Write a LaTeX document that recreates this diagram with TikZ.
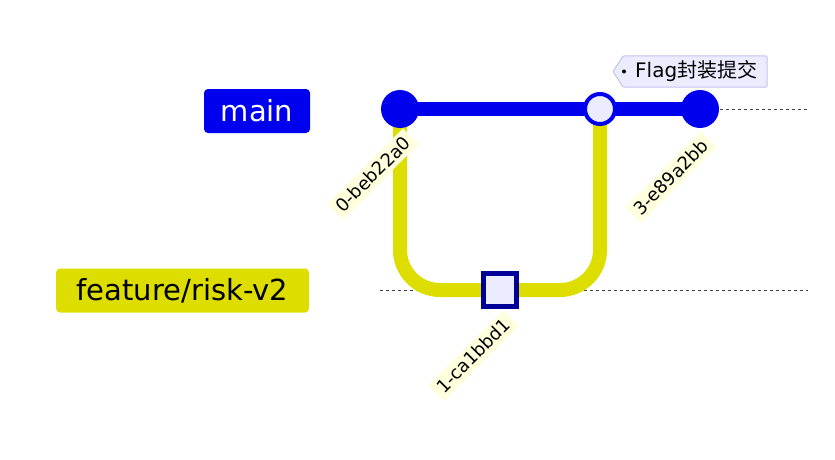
\documentclass[tikz,border=0pt]{standalone}
\usepackage{fontspec}
\setmainfont{DejaVu Sans}
\newfontfamily\cjk{Noto Sans CJK SC}
\usetikzlibrary{shapes.misc}
\definecolor{mainblue}{HTML}{0000EE}
\definecolor{featyel}{HTML}{DDDD00}
\definecolor{commitfill}{HTML}{ECECFF}
\definecolor{sqborder}{HTML}{000099}
\definecolor{lblbg}{HTML}{FFFFDE}
\definecolor{tagborder}{HTML}{C4C4F0}
\begin{document}
\begin{tikzpicture}[x=1pt,y=-1pt,
  branchlbl/.style={rounded corners=4pt, minimum height=44pt, inner sep=0pt, font=\fontsize{29}{32}\selectfont},
  hashlbl/.style={fill=lblbg, inner xsep=5pt, inner ysep=4pt, rotate=45, anchor=east, font=\fontsize{18}{20}\selectfont, text=black},
  guide/.style={draw=black!75, dash pattern=on 3pt off 3pt, line width=0.9pt},
  mainline/.style={draw=mainblue, line width=14pt},
  featline/.style={draw=featyel, line width=14pt},
  bigcommit/.style={circle, fill=mainblue, minimum size=38pt, inner sep=0pt},
  mergecommit/.style={circle, fill=commitfill, draw=mainblue, line width=4pt, minimum size=30pt, inner sep=0pt},
  sqcommit/.style={rectangle, fill=commitfill, draw=sqborder, line width=5pt, minimum size=33pt, inner sep=0pt}
]
\useasboundingbox (0,0) rectangle (835,460);
% branch labels
\node[branchlbl, fill=mainblue, text=white, minimum width=106pt] (lmain) at (257,111) {main};
\node[branchlbl, fill=featyel, text=black, minimum width=253pt] (lfeat) at (182.5,290.5) {feature/risk-v2};
% guide lines
\coordinate (gm0) at (720,109);
\coordinate (gm1) at (808,109);
\coordinate (gf0) at (380,290);
\coordinate (gf1) at (808,290);
\draw[guide] (gm0) -- (gm1);
\draw[guide] (gf0) -- (gf1);
% commit positions
\coordinate (p0) at (400,109);
\coordinate (p1) at (500,290);
\coordinate (p2) at (600,109);
\coordinate (p3) at (700,109);
% feature branch path
\draw[featline, rounded corners=40pt] (p0) -- (400,290) -- (600,290) -- (p2);
% main line
\draw[mainline] (p0) -- (p3);
% commits
\node[bigcommit] (c0) at (p0) {};
\node[bigcommit] (c3) at (p3) {};
\node[mergecommit] (c2) at (p2) {};
% hash labels
\node[hashlbl] (h0) at (411,136) {0-beb22a0};
\node[hashlbl] (h3) at (709,139) {3-e89a2bb};
\node[hashlbl] (h1) at (511,318) {1-ca1bbd1};
\node[sqcommit] (c1) at (p1) {};
% tag
\draw[draw=tagborder, fill=commitfill, line width=1pt, rounded corners=1pt] (613,71.5) -- (623,56) -- (767,56) -- (767,87) -- (623,87) -- cycle;
\fill[black] (624,71.5) circle (2pt);
\node[font=\fontsize{20}{22}\selectfont, anchor=west, inner sep=0pt] (tag) at (635,71.5) {Flag{\cjk 封装提交}};
\end{tikzpicture}
\end{document}
